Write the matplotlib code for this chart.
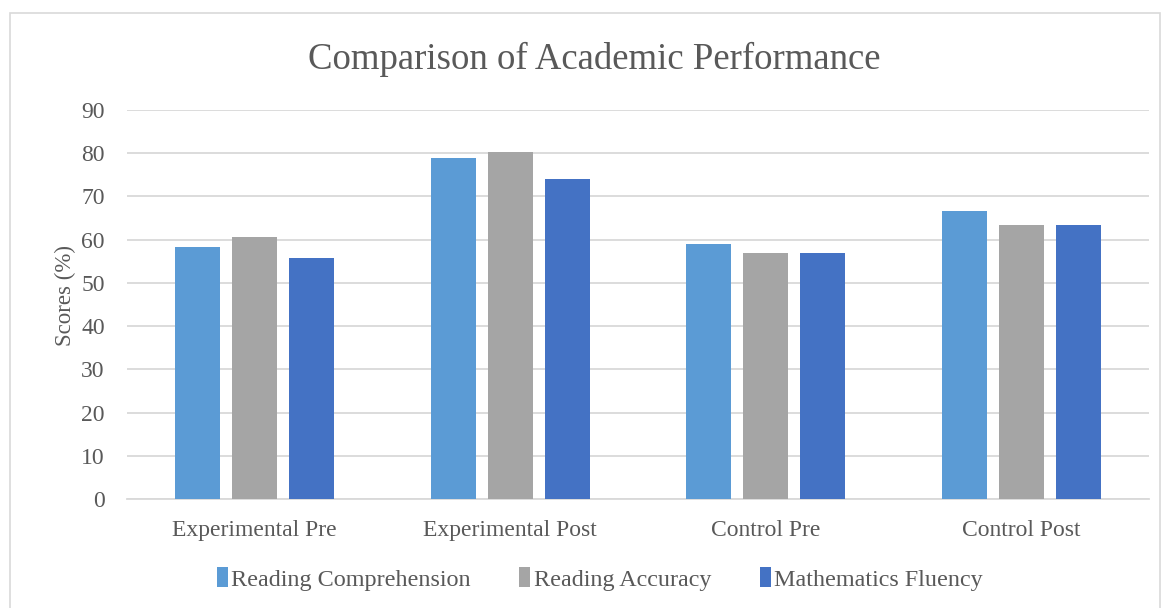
import matplotlib
matplotlib.use("Agg")
import matplotlib.pyplot as plt
import numpy as np
from matplotlib.patches import Rectangle

categories = ["Experimental Pre", "Experimental Post", "Control Pre", "Control Post"]
series_names = ["Reading Comprehension", "Reading Accuracy", "Mathematics Fluency"]
reading_comprehension = [58.2, 78.9, 59.1, 66.6]
reading_accuracy = [60.7, 80.3, 56.9, 63.3]
mathematics_fluency = [55.7, 74.1, 56.9, 63.3]
colors = ["#5B9BD5", "#A5A5A5", "#4472C4"]

plt.rcParams['font.family'] = ['Liberation Serif', 'DejaVu Serif']

fig = plt.figure(figsize=(11.63, 6.08), dpi=100)
W, H = 1163, 608
ax = fig.add_axes([127 / W, 1 - 499 / H, (1149 - 127) / W, (499 - 110) / H])

# outer chart border
fig.patches.append(Rectangle((10 / W, -0.01), (1160 - 10) / W, (1 - 13 / H) + 0.01,
                             transform=fig.transFigure, fill=False,
                             edgecolor="#D9D9D9", linewidth=1.2))

x = np.arange(len(categories))
bw = 0.176
step = 0.223
data = [reading_comprehension, reading_accuracy, mathematics_fluency]
for i, (vals, name, c) in enumerate(zip(data, series_names, colors)):
    ax.bar(x + (i - 1) * step, vals, width=bw, color=c, label=name, zorder=3)

ax.set_xlim(-0.5, len(categories) - 0.5)
ax.set_ylim(0, 90)
ax.set_yticks(range(0, 91, 10))
ax.grid(axis="y", color="#D9D9D9", linewidth=1.3, zorder=0)
for s in ["top", "right", "left"]:
    ax.spines[s].set_visible(False)
ax.spines["bottom"].set_color("#D9D9D9")
ax.spines["bottom"].set_linewidth(1.3)
ax.tick_params(axis="both", length=0, labelsize=17, colors="#595959", labelcolor="#595959")
ax.tick_params(axis="x", pad=15)
ax.tick_params(axis="y", pad=16)
ax.set_xticks(x)
ax.set_xticklabels(categories)
ax.set_ylabel("Scores (%)", fontsize=16.5, color="#595959")
ax.yaxis.set_label_coords((76 - 127) / 1022, (499 - 295) / 389)

fig.text(594 / W, 1 - 59 / H, "Comparison of Academic Performance", ha="center", va="center",
         fontsize=26.5, color="#595959")

leg = fig.legend(loc="center", bbox_to_anchor=(600 / W, 1 - 579 / H), ncol=3, frameon=False,
                 fontsize=17.4, handlelength=0.45, handleheight=0.9, handletextpad=0.15,
                 columnspacing=2.0, labelcolor="#595959")

fig.savefig("out.png", dpi=100)
